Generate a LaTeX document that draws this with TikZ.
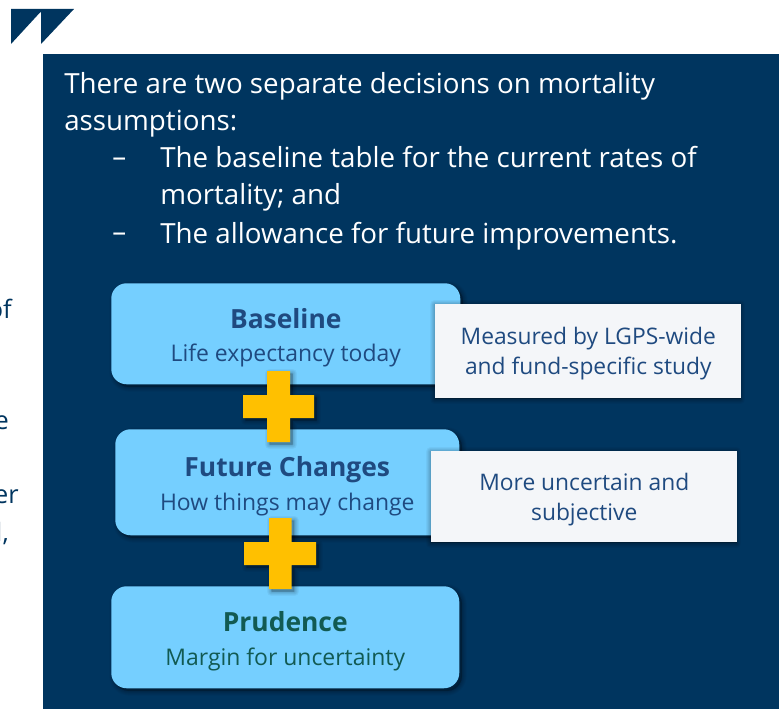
\documentclass[tikz,border=0pt]{standalone}
\usepackage{fontspec}
\setmainfont{Open Sans}
\definecolor{navy}{HTML}{00355F}
\definecolor{skyb}{HTML}{75CFFF}
\definecolor{plusy}{HTML}{FFC000}
\definecolor{paleb}{HTML}{F4F6F9}
\definecolor{titleb}{HTML}{1F4A80}
\definecolor{titleg}{HTML}{125A52}
\tikzset{
  shadowlayers/.style 2 args={
    preaction={draw=black,fill=black,opacity=.04,line width=7pt,line join=round,transform canvas={shift={(#1,#2)}}},
    preaction={draw=black,fill=black,opacity=.04,line width=5.5pt,line join=round,transform canvas={shift={(#1,#2)}}},
    preaction={draw=black,fill=black,opacity=.05,line width=4pt,line join=round,transform canvas={shift={(#1,#2)}}},
    preaction={draw=black,fill=black,opacity=.05,line width=2.5pt,line join=round,transform canvas={shift={(#1,#2)}}},
    preaction={draw=black,fill=black,opacity=.06,line width=1pt,line join=round,transform canvas={shift={(#1,#2)}}}},
  stagebox/.style={shadowlayers={2pt}{-2pt},fill=skyb,rounded corners=11.5pt,inner sep=0pt,align=center,
    minimum width=#1*0.75pt,anchor=north west,font=\fontsize{17.2}{24.75}\selectfont},
  notebox/.style={shadowlayers={-.5pt}{-.5pt},fill=paleb,inner sep=0pt,align=center,text=titleb,anchor=north west,
    minimum width=306*0.75pt,font=\fontsize{17.1}{22.5}\selectfont},
  plusshape/.style={shadowlayers={2pt}{-2pt},fill=plusy},
  bodytext/.style={text=white,inner sep=0pt,align=left,font=\fontsize{20.8}{27.6}\selectfont},
  edgetext/.style={text=navy,inner sep=0pt,anchor=base east,font=\fontsize{19}{24}\selectfont}
}
\newcommand{\stagehead}[1]{{\fontsize{19.8}{24.75}\selectfont\bfseries #1}}
\begin{document}
\begin{tikzpicture}[x=0.75pt,y=-0.75pt]
\useasboundingbox (0,0) rectangle (784,709);
\fill[white] (0,0) rectangle (784,709);
% logo
\fill[navy] (11,9) -- (74,9) -- (41,44) -- (41,12.5) -- (40,12.5) -- (11,44) -- cycle;
% cut-off text at left
\node[edgetext] (e1) at (12,318) {of};
\node[edgetext] (e2) at (9,429) {e};
\node[edgetext] (e3) at (19,503) {er};
\node[edgetext] (e4) at (9,541) {d,};
% panel
\fill[navy] (43,54) rectangle (779,709);
% body text
\node[bodytext,anchor=north west] (t1) at (64,72.5) {There are two separate decisions on mortality\\assumptions:};
\node[bodytext,anchor=base west] (d1) at (112,167) {–};
\node[bodytext,anchor=north west] (t2) at (160,146) {The baseline table for the current rates of\\mortality; and};
\node[bodytext,anchor=base west] (d2) at (112,241) {–};
\node[bodytext,anchor=north west] (t3) at (160,222) {The allowance for future improvements.};
% stage boxes
\node[stagebox=349,minimum height=101*0.75pt,text=titleb] (base) at (111,283)
  {\rule{0pt}{21pt}\stagehead{Baseline}\\Life expectancy today};
\node[stagebox=344,minimum height=106*0.75pt,text=titleb] (fut) at (115,429)
  {\rule{0pt}{21pt}\stagehead{Future Changes}\\[1pt]How things may change};
\node[stagebox=348,minimum height=102*0.75pt,text=titleg] (prud) at (111,586)
  {\rule{0pt}{21pt}\stagehead{Prudence}\\[.5pt]Margin for uncertainty};
% notes
\node[notebox,minimum height=94*0.75pt] (n1) at (435,304) {\rule{0pt}{17pt}Measured by LGPS-wide\\and fund-specific study};
\node[notebox,minimum height=91*0.75pt] (n2) at (431,451) {\rule{0pt}{17pt}More uncertain and\\subjective};
% plus signs
\fill[plusshape] (267,371) -- (290,371) -- (290,395) -- (314,395) -- (314,418) -- (290,418) -- (290,442) -- (267,442) -- (267,418) -- (243,418) -- (243,395) -- (267,395) -- cycle;
\fill[plusshape] (269,518) -- (291.5,518) -- (291.5,542) -- (316,542) -- (316,565) -- (291.5,565) -- (291.5,589) -- (269,589) -- (269,565) -- (244,565) -- (244,542) -- (269,542) -- cycle;
\end{tikzpicture}
\end{document}
